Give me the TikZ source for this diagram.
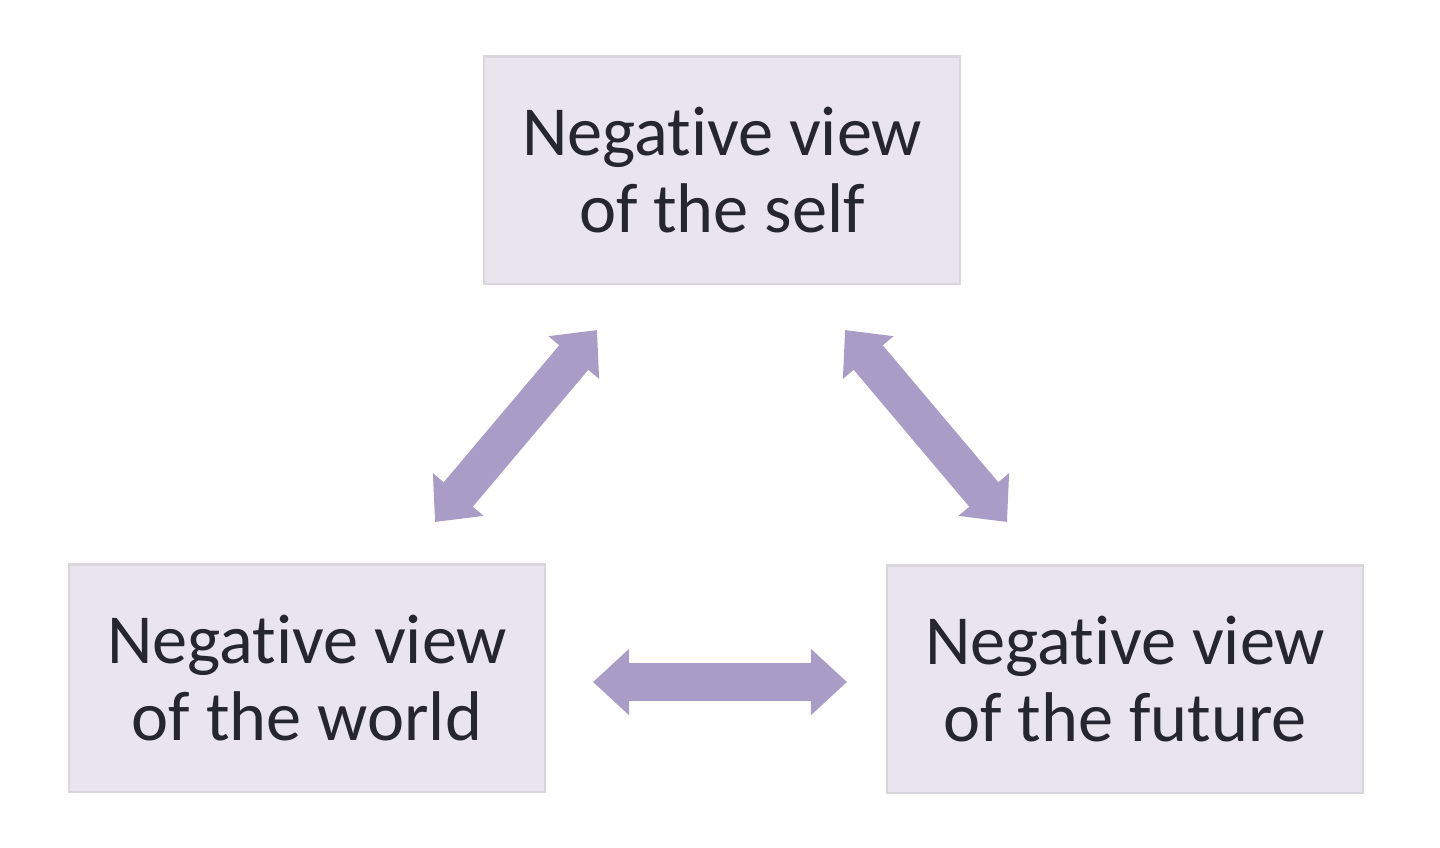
\documentclass[tikz,border=0pt]{standalone}
\usepackage{fontspec}
\setmainfont[Ligatures={NoCommon,NoRare}]{Carlito}
\usetikzlibrary{arrows.meta}
\definecolor{boxfill}{HTML}{E9E5EF}
\definecolor{arr}{HTML}{A99CC7}
\definecolor{txt}{HTML}{262630}
\newcommand{\Neg}{Negat\kern0pt ive view}
\tikzset{
 vbox/.style={fill=boxfill,draw=boxfill!85!gray,line width=0.6pt,minimum width=4.75cm,minimum height=2.27cm,align=center,font=\fontsize{20}{22}\selectfont,text=txt},
 dbl/.style={draw=arr,line width=0.38cm,{Triangle[width=0.64cm,length=0.36cm]}-{Triangle[width=0.64cm,length=0.36cm]}}
}
\begin{document}
\begin{tikzpicture}[x=0.01cm,y=-0.01cm]
\useasboundingbox (0,0) rectangle (1440,847);
\node[vbox] (self) at (722,170) {\Neg\\of the self};
\node[vbox] (world) at (307,678) {\Neg\\of the world};
\node[vbox] (future) at (1125,679) {\Neg\\of the future};
\coordinate (a1) at (435,522); \coordinate (a2) at (597,330);
\coordinate (b1) at (845,330); \coordinate (b2) at (1007,522);
\coordinate (c1) at (593,682); \coordinate (c2) at (847,682);
\draw[dbl] (a1) -- (a2);
\draw[dbl] (b1) -- (b2);
\draw[dbl] (c1) -- (c2);
\end{tikzpicture}
\end{document}
